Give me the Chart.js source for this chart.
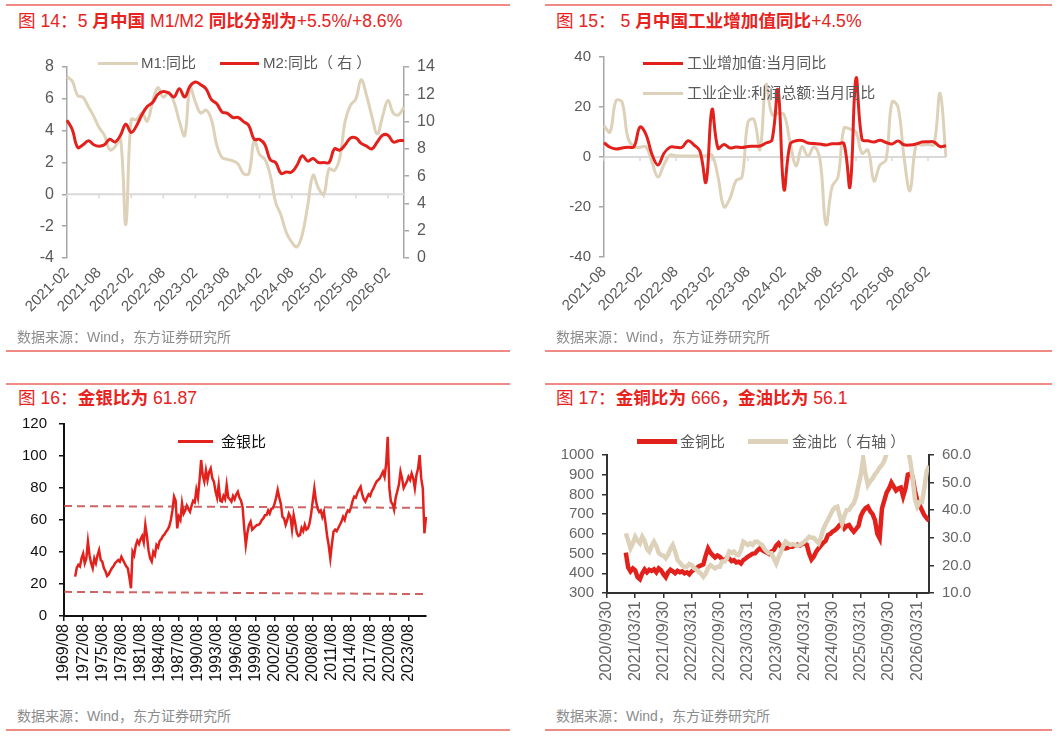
<!DOCTYPE html>
<html>
<head>
<meta charset="utf-8">
<script src="https://cdn.jsdelivr.net/npm/chart.js@4.4.1/dist/chart.umd.min.js"></script>
<style>
body { margin: 0; background: #fff; width: 1061px; height: 736px; position: relative; overflow: hidden;
       font-family: "Liberation Sans", Arial, "Noto Sans CJK SC", sans-serif; }
.rule { position: absolute; height: 2px; background: #f08a84; }
.title { position: absolute; color: #e8231e; font-size: 17.6px; line-height: 20px; white-space: nowrap; }
.src { position: absolute; color: #8c8c8c; font-size: 14px; line-height: 16px; white-space: nowrap; }
.box { position: absolute; }
.lg { position: absolute; font-size: 15px; line-height: 18px; color: #595959; white-space: nowrap; }
.ln { position: absolute; }
</style>
</head>
<body>

<div class="rule" style="left:6px;top:4px;width:504px"></div>
<div class="rule" style="left:545px;top:4px;width:507px"></div>
<div class="rule" style="left:6px;top:350px;width:504px"></div>
<div class="rule" style="left:545px;top:350px;width:507px"></div>
<div class="rule" style="left:6px;top:383px;width:504px"></div>
<div class="rule" style="left:545px;top:383px;width:507px"></div>
<div class="rule" style="left:6px;top:729px;width:504px"></div>
<div class="rule" style="left:545px;top:729px;width:507px"></div>

<div class="title" style="left:18px;top:11px">图 14：5 <b>月中国</b> M1/M2 <b>同比分别为</b>+5.5%/+8.6%</div>
<div class="title" style="left:556px;top:11px">图 15： 5 <b>月中国工业增加值同比</b>+4.5%</div>
<div class="title" style="left:18px;top:388px">图 16：<b>金银比为</b> 61.87</div>
<div class="title" style="left:556px;top:388px">图 17：<b>金铜比为</b> 666<b>，金油比为</b> 56.1</div>

<div class="box" style="left:0;top:40px"><canvas id="c1" width="450" height="290"></canvas></div>
<div class="box" style="left:530px;top:40px"><canvas id="c2" width="430" height="290"></canvas></div>
<div class="box" style="left:0;top:400px"><canvas id="c3" width="450" height="300"></canvas></div>
<div class="box" style="left:530px;top:400px"><canvas id="c4" width="470" height="300"></canvas></div>

<!-- legends -->
<div class="ln" style="left:98px;top:62px;width:40px;height:3px;background:#ddd2b9"></div>
<div class="lg" style="left:141px;top:54px">M1:同比</div>
<div class="ln" style="left:220px;top:62px;width:39px;height:3px;background:#e3211c"></div>
<div class="lg" style="left:263px;top:54px">M2:同比（ 右 ）</div>

<div class="ln" style="left:643px;top:62px;width:40px;height:3px;background:#e3211c"></div>
<div class="lg" style="left:687px;top:54px">工业增加值:当月同比</div>
<div class="ln" style="left:643px;top:92px;width:40px;height:3px;background:#ddd2b9"></div>
<div class="lg" style="left:687px;top:84px">工业企业:利润总额:当月同比</div>

<div class="ln" style="left:178px;top:440px;width:35px;height:3px;background:#e3211c"></div>
<div class="lg" style="left:221px;top:433px;color:#111">金银比</div>

<div class="ln" style="left:637px;top:439px;width:40px;height:5px;background:#e3211c"></div>
<div class="lg" style="left:680px;top:433px">金铜比</div>
<div class="ln" style="left:748px;top:439px;width:40px;height:5px;background:#ddd2b9"></div>
<div class="lg" style="left:792px;top:433px">金油比（ 右轴 ）</div>

<div class="src" style="left:17px;top:329px">数据来源：Wind，东方证券研究所</div>
<div class="src" style="left:556px;top:329px">数据来源：Wind，东方证券研究所</div>
<div class="src" style="left:17px;top:708px">数据来源：Wind，东方证券研究所</div>
<div class="src" style="left:556px;top:708px">数据来源：Wind，东方证券研究所</div>

<script>
// ---- fig 14: M1 / M2 yoy, monthly 2021-02 .. 2026-05
const p1Ticks = ['2021-02','2021-08','2022-02','2022-08','2023-02','2023-08','2024-02','2024-08','2025-02','2025-08','2026-02'];
const m1Yoy = [7.4, 7.1, 6.2, 6.1, 5.5, 4.9, 4.2, 3.7, 2.8, 3.0, 3.5,
  -1.9, 4.7, 4.7, 5.1, 4.6, 5.8, 6.7, 6.1, 6.4, 5.8, 4.6, 3.7,
  6.7, 5.8, 5.1, 5.3, 4.7, 3.1, 2.3, 2.2, 2.1, 1.9, 1.3, 1.3,
  3.4, 2.5, 2.2, 1.2, -0.5, -1.3, -2.4, -3.0, -3.3, -2.5, -0.7, 1.2,
  0.4, 0.0, 1.6, 1.5, 2.3, 4.6, 5.6, 6.0, 7.2, 6.2, 4.9, 3.8,
  4.9, 5.9, 5.1, 5.0, 5.5];
const m2Yoy = [10.1, 9.4, 8.1, 8.3, 8.6, 8.3, 8.2, 8.3, 8.7, 8.5, 9.0,
  9.8, 9.2, 9.7, 10.5, 11.1, 11.4, 12.0, 12.2, 12.1, 11.8, 12.4, 11.8,
  12.6, 12.9, 12.7, 12.4, 11.6, 11.3, 10.7, 10.6, 10.3, 10.3, 10.0, 9.7,
  8.7, 8.7, 8.3, 7.2, 7.0, 6.2, 6.3, 6.3, 6.8, 7.5, 7.1, 7.3,
  7.0, 7.0, 7.0, 8.0, 7.9, 8.3, 8.8, 8.8, 8.4, 8.2, 8.0, 8.5,
  9.0, 9.0, 8.5, 8.6, 8.6];

// ---- fig 15: industry value added / profits yoy, monthly 2021-08 .. 2026-05
const p2Ticks = ['2021-08','2022-02','2022-08','2023-02','2023-08','2024-02','2024-08','2025-02','2025-08','2026-02'];
const ivaYoy = [5.7, 3.9, 3.2, 3.6, 3.9, 4.1, 12.0, 9.0, 1.0, -3.2, 1.5, 3.9,
  3.9, 3.9, 6.5, 4.8, 2.3, -10.0, 19.0, 3.5, 5.0, 3.6, 4.0, 3.8,
  4.2, 4.3, 4.4, 5.6, 6.8, 26.8, -13.0, 5.0, 6.5, 6.6, 5.6, 5.4,
  5.2, 4.8, 5.3, 5.3, 5.3, -11.9, 31.5, 7.0, 6.5, 6.0, 6.7, 5.8,
  5.2, 6.4, 4.9, 4.8, 5.2, 6.0, 6.1, 6.0, 4.2, 4.5];
const profitYoy = [12.5, 10.0, 22.5, 22.0, 7.5, 4.1, 3.9, 4.1, -2.0, -8.0, -3.0, 0.8,
  0.5, 0.4, 0.4, 0.4, 0.4, 0.4, 0.8, -8.0, -19.9, -16.5, -9.5, -8.0,
  14.0, 15.0, 3.0, 29.0, 17.0, 17.5, 17.0, 6.0, -3.5, 4.1, 0.4, 4.1,
  -1.0, -27.0, -12.0, -8.0, 11.5, 11.2, 10.0, 1.5, 2.8, -9.6, -3.2, -1.2,
  22.0, 20.0, 0.0, -13.5, 4.8, 4.8, 5.0, 5.0, 25.5, 0.0];

// ---- fig 16: gold/silver ratio, quarterly steps from 1969/08 (first value 1971/05)
const p3Ticks = ['1969/08','1972/08','1975/08','1978/08','1981/08','1984/08','1987/08','1990/08','1993/08','1996/08',
  '1999/08','2002/08','2005/08','2008/08','2011/08','2014/08','2017/08','2020/08','2023/08'];
const gsLead = 7;
const gsRatio = [24.6, 30, 32, 31, 36, 39, 33, 36, 46.5, 38,
  33, 29.8, 36, 33, 38, 41.2, 35, 34, 30, 28,
  25, 26, 28, 29.8, 31, 33, 34, 35, 34, 37,
  35, 33, 31, 29.8, 24, 17.3, 40.2, 38, 44, 47,
  45, 48, 50, 46, 56.9, 50, 41, 36, 34, 40,
  38, 44.4, 43, 47, 48, 50, 51, 52.7, 54, 56,
  60, 66, 74.6, 72, 54.8, 62, 60, 70.4, 64, 66,
  69, 67, 65.2, 69, 72, 71, 78.8, 74, 85, 97.5,
  88, 84, 91, 85, 90, 92.3, 86, 84, 78, 74,
  81.9, 72, 71.5, 75, 73, 81.9, 74, 73, 71.5, 75,
  73, 76, 77.7, 74, 72, 68, 55, 44.4, 52, 57,
  59, 54, 55, 56, 56.9, 57, 58, 60, 61, 63,
  63.1, 66, 64, 67, 67.3, 70, 74, 78.8, 74, 70,
  62, 61, 57, 60, 64, 62, 54, 63.1, 58, 52,
  50, 50.6, 55, 53, 57, 54, 54.8, 58, 64, 72,
  79.8, 72, 67.3, 65, 66, 62, 65.2, 58, 50, 44,
  36, 45, 52.7, 54, 53, 55, 57, 59, 62, 60,
  64, 66, 65.2, 68, 72, 74.6, 74, 77, 79, 80.8,
  76, 73, 71.5, 74, 76, 75, 78, 79.8, 82, 84,
  85, 86, 88, 90.2, 87, 95, 112, 80, 71.5, 70,
  66.3, 74, 78, 82, 90.2, 86, 80, 82, 84, 87,
  85, 89, 86, 79.8, 88, 92, 100.6, 86, 79.8, 51.7,
  62];
const gsUpper = [68.7, 67.6];
const gsLower = [15.1, 13.7];

// ---- fig 17: gold/copper and gold/oil, half-month steps from 2020/09/30 (first value 2021/01)
const p4Ticks = ['2020/09/30','2021/03/31','2021/09/30','2022/03/31','2022/09/30','2023/03/31',
  '2023/09/30','2024/03/31','2024/09/30','2025/03/31','2025/09/30','2026/03/31'];
const p4Lead = 8;
const gcRatio = [505, 430, 410, 425, 415, 380, 370, 400, 420, 405,
  418, 412, 420, 405, 425, 415, 395, 380, 405, 418,
  410, 400, 412, 405, 410, 400, 405, 395, 410, 418,
  425, 435, 440, 445, 490, 526, 505, 492, 480, 490,
  484, 470, 467, 478, 475, 462, 467, 455, 459, 450,
  467, 475, 485, 492, 500, 501, 515, 526, 518, 510,
  505, 498, 510, 518, 540, 552, 535, 528, 526, 530,
  538, 535, 540, 545, 540, 548, 552, 545, 500, 470,
  485, 510, 526, 540, 555, 565, 594, 600, 612, 619,
  630, 645, 653, 628, 640, 645, 625, 611, 625, 640,
  690, 715, 730, 738, 715, 700, 670, 600, 577, 729,
  770, 810, 830, 860, 840, 820, 830, 835, 790, 830,
  900, 905, 890, 820, 770, 746, 720, 695, 680, 666];
const goRatio = [31.6, 29, 26.2, 28, 30.4, 29, 28, 30.4, 29, 26,
  25, 27, 28.6, 27, 24.5, 23.8, 23.5, 22.6, 24, 26,
  27.4, 25, 22, 21, 20, 19.5, 19.5, 20.5, 20.1, 19,
  18.5, 17.7, 17, 15.9, 17, 19, 20.1, 19.5, 18.9, 19.5,
  19.5, 21.4, 21.4, 22.5, 25, 24.5, 25, 24, 23.8, 25.5,
  28.6, 28, 27.4, 28, 27.4, 28.6, 28.6, 27.8, 27.4, 26,
  25, 24.4, 24.4, 22.5, 20.7, 23, 25, 27, 28.6, 28,
  27.4, 27.8, 27.4, 27, 27.4, 28, 28.6, 29.5, 30.4, 30,
  30, 29, 28, 30, 33, 35, 36.5, 38.3, 40, 41,
  41.3, 38, 35.2, 38, 40, 40.1, 41.5, 42.5, 45, 49.1,
  52.8, 58.8, 53, 49.1, 50.5, 51.5, 53, 54, 55.5, 56.4,
  58, 60.6, 62, 64, 63, 65, 64, 66, 64, 63,
  62, 58, 52, 44, 41.3, 43, 43, 48, 54, 56.1];

const RED = '#e3211c';
const BEIGE = '#ddd2b9';

Chart.defaults.font.family = '"Liberation Sans", Arial, "Noto Sans CJK SC", sans-serif';
Chart.defaults.animation = false;
Chart.defaults.plugins.legend.display = false;
Chart.defaults.plugins.tooltip.enabled = false;
Chart.defaults.elements.point.radius = 0;

function every(n, last) { return s => { s.ticks = s.ticks.filter(t => t.value % n === 0 && t.value <= last); }; }
function fixW(w) { return s => { s.width = w; }; }
function fixH(h) { return s => { s.height = h; }; }
function pad(n) { return Array(n).fill(null); }

// light grey zero line with small tick marks, like the excel category axis
const zeroLine = {
  id: 'zeroLine',
  beforeDatasetsDraw(chart) {
    const { ctx, chartArea: a, scales } = chart;
    const y0 = scales.y.getPixelForValue(0);
    ctx.save();
    ctx.strokeStyle = '#d9d9d9';
    ctx.lineWidth = 2;
    ctx.beginPath(); ctx.moveTo(a.left, y0); ctx.lineTo(a.right, y0); ctx.stroke();
    ctx.lineWidth = 1.5;
    scales.x.ticks.forEach((t, i) => {
      const x = scales.x.getPixelForTick(i);
      ctx.beginPath(); ctx.moveTo(x, y0); ctx.lineTo(x, y0 + 4); ctx.stroke();
    });
    ctx.restore();
  }
};

const greyAxis = { border: { color: '#a6a6a6', width: 1.5 },
  grid: { drawOnChartArea: false, tickLength: 5, color: '#a6a6a6', lineWidth: 1.5 } };

// fig 14
new Chart(document.getElementById('c1'), {
  type: 'line',
  plugins: [zeroLine],
  data: {
    labels: m2Yoy.map((_, i) => p1Ticks[i / 6] || ''),
    datasets: [
      { label: 'M2:同比（右）', data: m2Yoy, yAxisID: 'y1', borderColor: RED, borderWidth: 3, tension: 0.4, order: 0 },
      { label: 'M1:同比', data: m1Yoy, yAxisID: 'y', borderColor: BEIGE, borderWidth: 3, tension: 0.4, order: 1 }
    ]
  },
  options: {
    responsive: false, devicePixelRatio: 1,
    layout: { padding: { top: 27, right: 0, bottom: 0, left: 0 } },
    scales: {
      x: { offset: false, border: { display: false }, grid: { display: false, drawTicks: false },
           ticks: { autoSkip: false, minRotation: 45, maxRotation: 45, color: '#595959', font: { size: 15 }, padding: 6,
                    callback(v) { return this.getLabelForValue(v); } },
           afterBuildTicks: every(6, 60), afterFit: fixH(72) },
      y: { position: 'left', min: -4, max: 8, ...greyAxis,
           ticks: { autoSkip: false, stepSize: 2, color: '#595959', font: { size: 16 }, padding: 8 }, afterFit: fixW(67) },
      y1: { position: 'right', min: 0, max: 14, ...greyAxis,
            ticks: { autoSkip: false, stepSize: 2, color: '#595959', font: { size: 16 }, padding: 8 }, afterFit: fixW(46) }
    }
  }
});

// fig 15
new Chart(document.getElementById('c2'), {
  type: 'line',
  plugins: [zeroLine],
  data: {
    labels: ivaYoy.map((_, i) => p2Ticks[i / 6] || ''),
    datasets: [
      { label: '工业增加值:当月同比', data: ivaYoy, borderColor: RED, borderWidth: 3, tension: 0.4, order: 0 },
      { label: '工业企业:利润总额:当月同比', data: profitYoy, borderColor: BEIGE, borderWidth: 3, tension: 0.4, order: 1 }
    ]
  },
  options: {
    responsive: false, devicePixelRatio: 1,
    layout: { padding: { top: 17, right: 14, bottom: 0, left: 0 } },
    scales: {
      x: { offset: false, border: { display: false }, grid: { display: false, drawTicks: false },
           ticks: { autoSkip: false, minRotation: 45, maxRotation: 45, color: '#595959', font: { size: 15 }, padding: 6,
                    callback(v) { return this.getLabelForValue(v); } },
           afterBuildTicks: every(6, 54), afterFit: fixH(73) },
      y: { min: -40, max: 40, ...greyAxis,
           ticks: { autoSkip: false, stepSize: 20, color: '#595959', font: { size: 15 }, padding: 8 }, afterFit: fixW(74) }
    }
  }
});

// fig 16
const p3Count = gsLead + gsRatio.length;
const upperLine = pad(p3Count); upperLine[0] = gsUpper[0]; upperLine[p3Count - 1] = gsUpper[1];
const lowerLine = pad(p3Count); lowerLine[0] = gsLower[0]; lowerLine[p3Count - 1] = gsLower[1];
const blackAxis = { border: { color: '#111', width: 2 },
  grid: { drawOnChartArea: false, tickLength: 5, color: '#111', lineWidth: 1.5 } };

new Chart(document.getElementById('c3'), {
  type: 'line',
  data: {
    labels: Array.from({ length: p3Count }, (_, i) => p3Ticks[i / 12] || ''),
    datasets: [
      { label: 'upper', data: upperLine, spanGaps: true, borderColor: 'rgba(192,60,60,0.8)', borderWidth: 2, borderDash: [8, 5], order: 0, clip: 8 },
      { label: 'lower', data: lowerLine, spanGaps: true, borderColor: 'rgba(192,60,60,0.8)', borderWidth: 2, borderDash: [8, 5], order: 0, clip: 8 },
      { label: '金银比', data: pad(gsLead).concat(gsRatio), borderColor: RED, borderWidth: 2.5, tension: 0, order: 1 }
    ]
  },
  options: {
    responsive: false, devicePixelRatio: 1,
    layout: { padding: { top: 24, right: 24, bottom: 0, left: 0 } },
    scales: {
      x: { offset: false, ...blackAxis,
           ticks: { autoSkip: false, minRotation: 90, maxRotation: 90, color: '#111', font: { size: 16 }, padding: 3,
                    callback(v) { return this.getLabelForValue(v); } },
           afterBuildTicks: every(12, 216), afterFit: fixH(84) },
      y: { min: 0, max: 120, ...blackAxis,
           ticks: { autoSkip: false, stepSize: 20, color: '#111', font: { size: 15 }, padding: 12 }, afterFit: fixW(64) }
    }
  }
});

// fig 17
const p4Count = p4Lead + gcRatio.length;
const darkAxis = { border: { color: '#333', width: 2 },
  grid: { drawOnChartArea: false, tickLength: 5, color: '#333', lineWidth: 1.5 } };

new Chart(document.getElementById('c4'), {
  type: 'line',
  data: {
    labels: Array.from({ length: p4Count }, (_, i) => p4Ticks[i / 12] || ''),
    datasets: [
      { label: '金铜比', data: pad(p4Lead).concat(gcRatio), yAxisID: 'y', borderColor: RED, borderWidth: 4.5, order: 1, clip: 0 },
      { label: '金油比（右轴）', data: pad(p4Lead).concat(goRatio), yAxisID: 'y1', borderColor: BEIGE, borderWidth: 4.5, order: 0, clip: 0 }
    ]
  },
  options: {
    responsive: false, devicePixelRatio: 1,
    layout: { padding: { top: 55, right: 0, bottom: 0, left: 0 } },
    scales: {
      x: { offset: false, ...darkAxis,
           ticks: { autoSkip: false, minRotation: 90, maxRotation: 90, color: '#666', font: { size: 16 }, padding: 3,
                    callback(v) { return this.getLabelForValue(v); } },
           afterBuildTicks: every(12, 132), afterFit: fixH(107) },
      y: { position: 'left', min: 300, max: 1000, ...darkAxis,
           ticks: { autoSkip: false, stepSize: 100, color: '#666', font: { size: 15 }, padding: 8, callback: v => String(v) },
           afterFit: fixW(77) },
      y1: { position: 'right', min: 10, max: 60, ...darkAxis,
            ticks: { autoSkip: false, stepSize: 10, color: '#666', font: { size: 15 }, padding: 8, callback: v => v.toFixed(1) },
            afterFit: fixW(71) }
    }
  }
});
</script>
</body>
</html>
